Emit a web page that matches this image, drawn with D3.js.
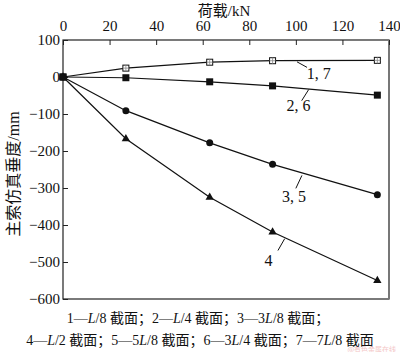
<!DOCTYPE html>
<html>
<head>
  <meta charset="utf-8">
  <title>sag-chart</title>
  <style>
    body { margin: 0; background: #fff; }
    svg text { font-family: "Liberation Serif", "Times New Roman", serif; fill: #111; }
    .cjk { font-family: "Liberation Serif", "Noto Sans CJK SC", serif; }
    .axis path, .axis line { stroke: #222; }
  </style>
  <script src="https://cdn.jsdelivr.net/npm/d3@7"></script>
</head>
<body>
<script type="text/javascript">

  // load steps (kN)
  var loads = [0, 27, 63, 90, 135];
  // sag values (mm) per curve
  var s17 = [0, 24, 40, 44, 45];
  var s26 = [0, -2, -13, -24, -49];
  var s35 = [0, -91, -178, -236, -318];
  var s4 = [0, -167, -325, -419, -550];
  var xTicks = [0, 20, 40, 60, 80, 100, 120, 140];
  var yTicks = [100, 0, -100, -200, -300, -400, -500, -600];
  var seriesNames = ["1, 7", "2, 6", "3, 5", "4"];
  var legendLine1 = ["1—L/8 截面；", "2—L/4 截面；", "3—3L/8 截面；"];
  var legendLine2 = ["4—L/2 截面；", "5—5L/8 截面；", "6—3L/4 截面；", "7—7L/8 截面"];

  var W = 400, H = 352;
  var margin = {top: 40, right: 11, bottom: 53, left: 63};
  var width = W - margin.left - margin.right;
  var height = H - margin.top - margin.bottom;

  var svg = d3.select("body").append("svg")
    .attr("width", W)
    .attr("height", H);

  var g = svg.append("g")
    .attr("transform", "translate(" + margin.left + "," + margin.top + ")");

  var x = d3.scaleLinear().domain([0, 140]).range([0, width]);
  var y = d3.scaleLinear().domain([-600, 100]).range([height, 0]);

  // frame
  g.append("rect")
    .attr("width", width).attr("height", height)
    .attr("fill", "none").attr("stroke", "#222").attr("stroke-width", 1.2);
  g.append("line")
    .attr("x1", width).attr("x2", width).attr("y1", 0).attr("y2", height)
    .attr("stroke", "#777").attr("stroke-width", 2);

  // top axis, ticks inward
  var xa = g.append("g").attr("class", "axis")
    .call(d3.axisTop(x).tickValues(xTicks).tickSizeInner(-5).tickSizeOuter(0).tickPadding(8));
  xa.select(".domain").remove();
  xa.selectAll("text").style("font-size", "15px").attr("dy", "-0.1em");

  var ya = g.append("g").attr("class", "axis")
    .call(d3.axisLeft(y).tickValues(yTicks).tickSizeInner(-5).tickSizeOuter(0).tickPadding(3)
      .tickFormat(function(d) { return d < 0 ? "\u2212" + Math.abs(d) : d; }));
  ya.select(".domain").remove();
  ya.selectAll("text").style("font-size", "15px").attr("dy", "0.32em");

  // axis titles
  svg.append("text")
    .attr("class", "cjk")
    .attr("x", 224).attr("y", 16)
    .attr("text-anchor", "middle")
    .style("font-size", "15px")
    .text("荷载/kN");

  svg.append("text")
    .attr("class", "cjk")
    .attr("transform", "translate(19,174) rotate(-90)")
    .attr("text-anchor", "middle")
    .style("font-size", "16px")
    .text("主索仿真垂度/mm");

  // curves
  var allSeries = [s17, s26, s35, s4];
  var line = d3.line()
    .x(function(d, i) { return x(loads[i]); })
    .y(function(d) { return y(d); });

  allSeries.forEach(function(s, k) {
    g.append("path")
      .datum(s)
      .attr("d", line)
      .attr("fill", "none")
      .attr("stroke", "#111")
      .attr("stroke-width", 1.2);

    var pts = g.selectAll(".pt" + k)
      .data(s).enter();

    if (k === 0) {
      pts.append("rect")
        .attr("x", function(d, i) { return x(loads[i]) - 3; })
        .attr("y", function(d) { return y(d) - 3; })
        .attr("width", 6).attr("height", 6)
        .attr("fill", "#fff").attr("stroke", "#111").attr("stroke-width", 1);
      pts.append("path")
        .attr("d", function(d, i) {
          var cx = x(loads[i]), cy = y(d);
          return "M" + (cx - 3) + "," + cy + "H" + (cx + 3) + "M" + cx + "," + (cy - 3) + "V" + (cy + 3);
        })
        .attr("stroke", "#888").attr("stroke-width", 0.8);
    } else if (k === 1) {
      pts.append("rect")
        .attr("x", function(d, i) { return x(loads[i]) - 3.5; })
        .attr("y", function(d) { return y(d) - 3.5; })
        .attr("width", 7).attr("height", 7)
        .attr("fill", "#111");
    } else if (k === 2) {
      pts.append("circle")
        .attr("cx", function(d, i) { return x(loads[i]); })
        .attr("cy", function(d) { return y(d); })
        .attr("r", 3.5)
        .attr("fill", "#111");
    } else {
      pts.append("path")
        .attr("d", d3.symbol().type(d3.symbolTriangle).size(30))
        .attr("transform", function(d, i) { return "translate(" + x(loads[i]) + "," + y(d) + ")"; })
        .attr("fill", "#111");
    }
  });

  // curve labels with leader lines (positions in data units)
  var labelPos = [
    {lx: 100.5, ly: 41, ax: 104.8, ay: 26, tx: 104.7, ty: -5},
    {lx: 105.5, ly: -34, ax: 102.5, ay: -64, tx: 96, ty: -92},
    {lx: 102.6, ly: -266, ax: 100, ay: -301, tx: 94, ty: -337},
    {lx: 95.2, ly: -437, ax: 92.3, ay: -469, tx: 86.5, ty: -510}
  ];
  labelPos.forEach(function(p, k) {
    g.append("line")
      .attr("x1", x(p.lx)).attr("y1", y(p.ly))
      .attr("x2", x(p.ax)).attr("y2", y(p.ay))
      .attr("stroke", "#111").attr("stroke-width", 1);
    g.append("text")
      .attr("x", x(p.tx)).attr("y", y(p.ty))
      .style("font-size", "16px")
      .text(seriesNames[k]);
  });

  // legend notes under the chart, L in italics
  function legendRow(items, cx, cy) {
    var t = svg.append("text").attr("class", "cjk")
      .attr("x", cx).attr("y", cy).attr("text-anchor", "middle")
      .style("font-size", "14px");
    items.forEach(function(item) {
      var parts = item.split("L");
      parts.forEach(function(part, j) {
        if (j > 0) t.append("tspan").style("font-style", "italic").text("L");
        t.append("tspan").text(part);
      });
    });
  }
  legendRow(legendLine1, 198, 323);
  legendRow(legendLine2, 200, 345);

  // watermark
  svg.append("text")
    .attr("x", 396).attr("y", 351.5).attr("text-anchor", "end")
    .style("font-family", "Noto Sans CJK SC")
    .style("font-size", "7px")
    .style("fill", "#f2b8b8")
    .style("opacity", 0.8)
    .text("@有色金属在线");

</script>
</body>
</html>
